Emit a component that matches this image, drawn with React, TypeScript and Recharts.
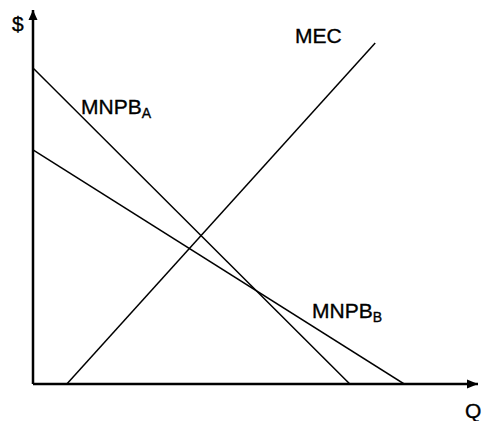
import React from "react";
import { LineChart, Line, XAxis, YAxis, ReferenceDot, ReferenceLine } from "recharts";

// Q and $ are in arbitrary units (0..100 on each axis)
const mnpbA = [
  { q: 0, v: 84.5 },
  { q: 71.2, v: 0 },
];
const mnpbB = [
  { q: 0, v: 62.6 },
  { q: 83.4, v: 0 },
];
const mec = [
  { q: 7.6, v: 0 },
  { q: 76.9, v: 91.2 },
];

const labels = [
  { q: -4.7, v: 94.4, text: "$", sub: "" },
  { q: 10.8, v: 72.2, text: "MNPB", sub: "A" },
  { q: 58.9, v: 91.2, text: "MEC", sub: "" },
  { q: 62.7, v: 17.6, text: "MNPB", sub: "B" },
  { q: 97.1, v: -9.1, text: "Q", sub: "" },
];

const font = "'Liberation Sans', Arial, sans-serif";

function LabelText(props: any) {
  const { cx, cy, text, sub } = props;
  return (
    <text x={cx} y={cy} fontFamily={font} fontSize={21} fill="#000" stroke="#000" strokeWidth={0.35}>
      {text}
      {sub && (
        <tspan fontSize={14} dy={4}>
          {sub}
        </tspan>
      )}
    </text>
  );
}

const UpArrow = ({ cx, cy }: any) => (
  <polygon points={`${cx},${cy} ${cx - 4.5},${cy + 10} ${cx + 4.5},${cy + 10}`} fill="#000" />
);
const RightArrow = ({ cx, cy }: any) => (
  <polygon points={`${cx},${cy} ${cx - 11},${cy - 4.5} ${cx - 11},${cy + 4.5}`} fill="#000" />
);

export default function App() {
  return (
    <div style={{ position: "absolute", left: 0, top: 0, background: "#fff" }}>
      <LineChart width={484} height={421} margin={{ top: 10, right: 6, bottom: 37, left: 33 }}>
        <XAxis type="number" dataKey="q" domain={[0, 100]} hide allowDataOverflow />
        <YAxis type="number" dataKey="v" domain={[0, 100]} hide allowDataOverflow />
        <ReferenceLine y={0} stroke="#000" strokeWidth={2.5} ifOverflow="visible" />
        <ReferenceLine x={0} stroke="#000" strokeWidth={2.5} ifOverflow="visible" />
        <Line data={mnpbA} dataKey="v" stroke="#000" strokeWidth={1.5} dot={false} isAnimationActive={false} />
        <Line data={mnpbB} dataKey="v" stroke="#000" strokeWidth={1.5} dot={false} isAnimationActive={false} />
        <Line data={mec} dataKey="v" stroke="#000" strokeWidth={1.5} dot={false} isAnimationActive={false} />
        <ReferenceDot x={0} y={100} r={0} ifOverflow="visible" shape={UpArrow} />
        <ReferenceDot x={100} y={0} r={0} ifOverflow="visible" shape={RightArrow} />
        {labels.map((l) => (
          <ReferenceDot
            key={l.text + l.sub}
            x={l.q}
            y={l.v}
            r={0}
            ifOverflow="visible"
            shape={(p: any) => <LabelText {...p} text={l.text} sub={l.sub} />}
          />
        ))}
      </LineChart>
    </div>
  );
}
